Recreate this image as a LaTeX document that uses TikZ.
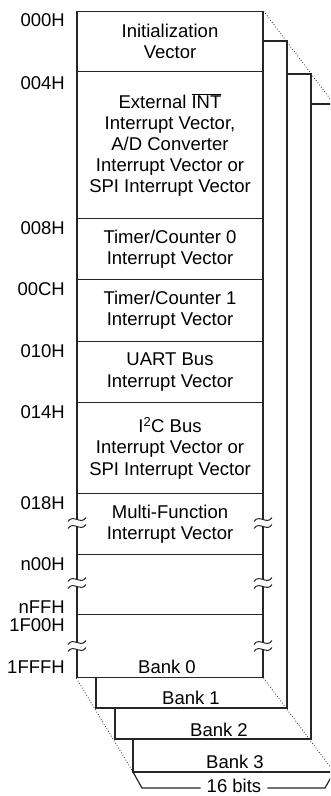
\documentclass[tikz,border=0pt]{standalone}
\usepackage{fontspec}
\setmainfont{Liberation Sans}
\begin{document}
\begin{tikzpicture}[x=1pt,y=-1pt,
  every node/.style={font=\fontsize{18.5}{21.2}\selectfont, text=black},
  cell/.style={draw=black!85, line width=1.2pt, fill=white, minimum width=186pt, inner sep=0pt, align=center, anchor=north},
  bank/.style={draw=black!85, line width=1.2pt, fill=white},
  addr/.style={anchor=east, inner sep=0pt},
  dots/.style={black!85, line width=0.8pt, dotted},
  brk/.pic={
    \fill[white] (-9,-1.5) .. controls (-4,-9.5) and (4,2.5) .. (9,-5.5) -- (9,1.5) .. controls (4,9.5) and (-4,-2.5) .. (-9,5.5) -- cycle;
    \draw[black!85, line width=1pt] (-9,-1.5) .. controls (-4,-9.5) and (4,2.5) .. (9,-5.5);
    \draw[black!85, line width=1pt] (-9,5.5) .. controls (-4,-2.5) and (4,9.5) .. (9,1.5);
  }]
\useasboundingbox (0,0) rectangle (330,796);
\clip (0,0) rectangle (330,796);
% banks behind
\draw[bank] (133,104) rectangle (334,772);
\draw[bank] (115,74) rectangle (311,739);
\draw[bank] (96,41) rectangle (287,708);
\coordinate (b3bl) at (133,772);
\coordinate (b3br) at (334,772);
\coordinate (b3tr) at (334,104);
% bank 0 cells
\node[cell, minimum height=60pt] (init) at (170,11) {Initialization\\Vector};
\node[cell, minimum height=147pt] (ext) at (170,71) {External $\overline{\hbox{INT}}$\\Interrupt Vector,\\A/D Converter\\Interrupt Vector or\\SPI Interrupt Vector};
\node[cell, minimum height=61pt] (t0) at (170,218) {Timer/Counter 0\\Interrupt Vector};
\node[cell, minimum height=62pt] (t1) at (170,279) {Timer/Counter 1\\Interrupt Vector};
\node[cell, minimum height=61pt] (uart) at (170,341) {UART Bus\\Interrupt Vector};
\node[cell, minimum height=91pt] (i2c) at (170,402) {I\textsuperscript{2}C Bus\\Interrupt Vector or\\SPI Interrupt Vector};
\node[cell, minimum height=61pt] (multi) at (170,493) {Multi-Function\\Interrupt Vector};
\node[cell, minimum height=60pt] (blank) at (170,554) {};
\node[cell, minimum height=63pt] (last) at (170,614) {};
% labels of banks
\node (bk0) at (167,667) {Bank 0};
\node (bk1) at (191,698) {Bank 1};
\node (bk2) at (219,730) {Bank 2};
\node (bk3) at (235,762) {Bank 3};
% addresses
\node[addr] (a0) at (65,20) {000H};
\node[addr] (a1) at (65,83) {004H};
\node[addr] (a2) at (65,228) {008H};
\node[addr] (a3) at (65,289) {00CH};
\node[addr] (a4) at (65,351) {010H};
\node[addr] (a5) at (65,412) {014H};
\node[addr] (a6) at (65,503) {018H};
\node[addr] (a7) at (65,564) {n00H};
\node[addr] (a8) at (65,607) {nFFH};
\node[addr] (a9) at (65,625) {1F00H};
\node[addr] (a10) at (65,667) {1FFFH};
% break marks
\pic at (77,523) {brk};
\pic at (263,523) {brk};
\pic at (77,583) {brk};
\pic at (263,583) {brk};
\pic at (77,646) {brk};
\pic at (263,646) {brk};
% dotted perspective lines
\draw[dots] (init.north east) -- (b3tr);
\draw[dots] (last.south west) -- (b3bl);
\draw[dots] (last.south east) -- (b3br);
% 16 bits bracket
\node[fill=white, inner xsep=6pt, inner ysep=0pt] (bits) at (234,786) {16 bits};
\draw[black!85, line width=1.2pt] (b3bl) -- (142,788) -- (bits.west |- 0,788);
\draw[black!85, line width=1.2pt] (bits.east |- 0,788) -- (325,788) -- (b3br);
\end{tikzpicture}
\end{document}
